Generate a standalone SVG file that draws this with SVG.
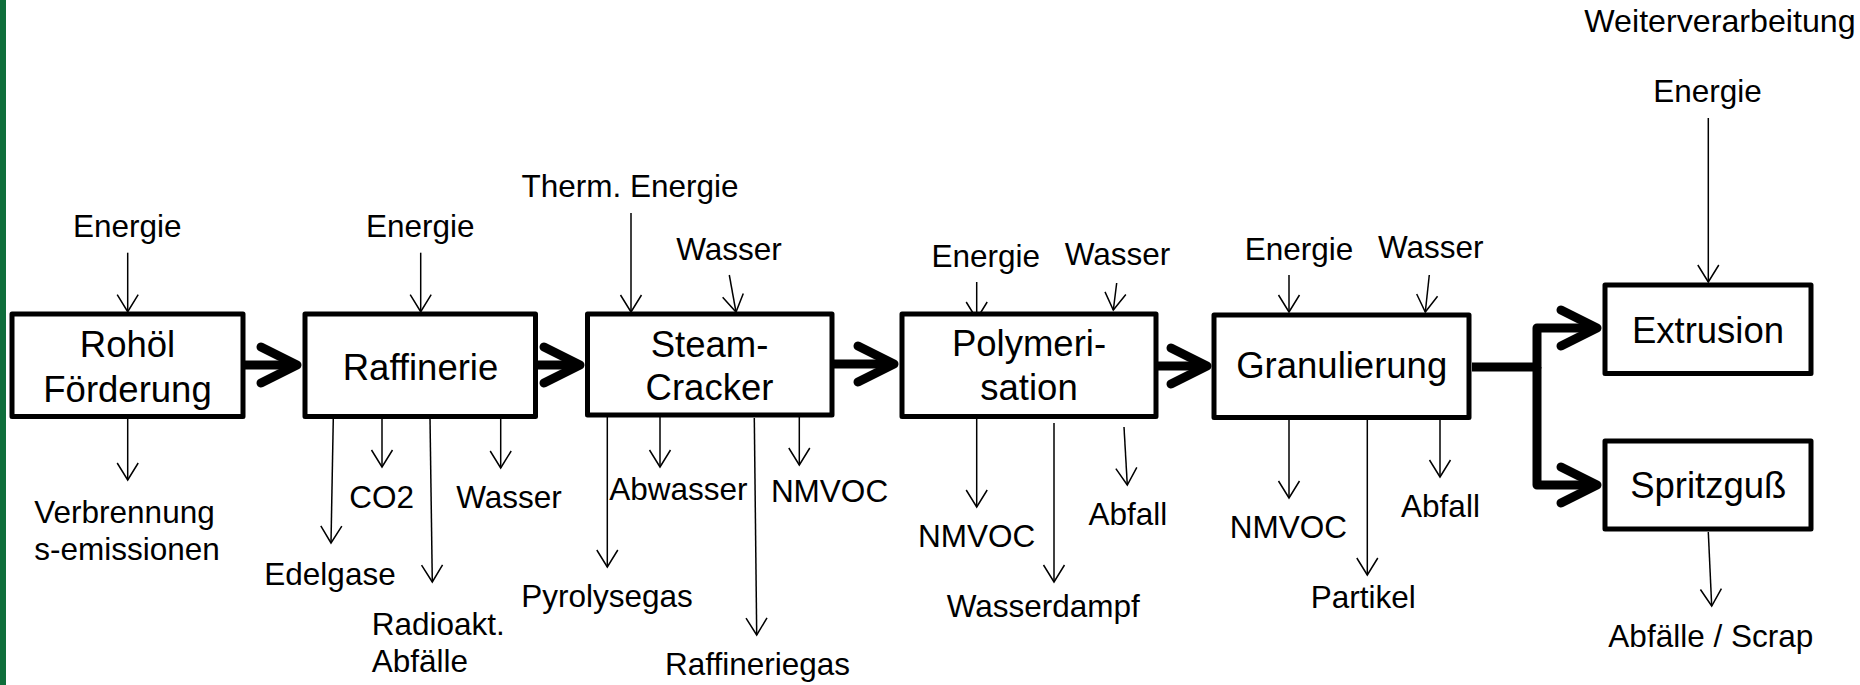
<svg xmlns="http://www.w3.org/2000/svg" width="1860" height="685" viewBox="0 0 1860 685">
<style>
.box{fill:#fff;stroke:#000;stroke-width:5;stroke-linejoin:round}
.bt{font-family:"Liberation Sans",Arial,sans-serif;font-size:36.5px;fill:#000;text-anchor:middle}
.lb{font-family:"Liberation Sans",Arial,sans-serif;font-size:31.5px;fill:#000;text-anchor:middle}
.ls{text-anchor:start}
.thin{stroke:#000;stroke-width:1.5;fill:none;marker-end:url(#v)}
.thick{stroke:#000;stroke-width:9;fill:none;stroke-linejoin:round;marker-end:url(#ch)}
</style>
<defs>
<marker id="v" markerUnits="userSpaceOnUse" orient="auto" refX="0" refY="0" markerWidth="40" markerHeight="40" overflow="visible">
<path d="M-17,-10.5 L0,0 L-17,10.5" fill="none" stroke="#000" stroke-width="1.5"/>
</marker>
<marker id="ch" markerUnits="userSpaceOnUse" orient="auto" refX="0" refY="0" markerWidth="80" markerHeight="80" overflow="visible">
<path d="M-36,-18 L0,0 L-36,18" fill="none" stroke="#000" stroke-width="9" stroke-linecap="round" stroke-linejoin="round"/>
</marker>
</defs>
<rect width="1860" height="685" fill="#fff"/>
<rect x="0" y="0" width="6" height="685" fill="#0e6e3b"/>

<g id="connectors">
<path class="thick" d="M245,365 H297"/>
<path class="thick" d="M538,365 H580"/>
<path class="thick" d="M834,364 H894"/>
<path class="thick" d="M1158,366 H1207"/>
<path class="thick" d="M1472,367 H1537 V328 H1597"/>
<path class="thick" d="M1537,367 V485 H1597"/>
<line class="thin" x1="127.7" y1="252.7" x2="127.7" y2="311.7"/>
<line class="thin" x1="127.7" y1="419" x2="127.7" y2="480"/>
<line class="thin" x1="420.7" y1="252.7" x2="420.7" y2="311.7"/>
<line class="thin" x1="333.3" y1="418" x2="331" y2="543"/>
<line class="thin" x1="382" y1="416" x2="382" y2="467"/>
<line class="thin" x1="430" y1="418" x2="432.3" y2="582"/>
<line class="thin" x1="500.7" y1="418" x2="500.7" y2="468"/>
<line class="thin" x1="631" y1="213" x2="631" y2="312"/>
<line class="thin" x1="729.3" y1="275" x2="736" y2="312"/>
<line class="thin" x1="607.3" y1="417" x2="607.3" y2="567"/>
<line class="thin" x1="660" y1="417" x2="660" y2="467"/>
<line class="thin" x1="754.3" y1="418" x2="756.7" y2="635"/>
<line class="thin" x1="799.3" y1="417" x2="799.3" y2="465"/>
<line class="thin" x1="976.7" y1="282" x2="976.7" y2="319"/>
<line class="thin" x1="1116.7" y1="283" x2="1113.3" y2="310"/>
<line class="thin" x1="976.7" y1="419" x2="976.7" y2="507"/>
<line class="thin" x1="1054" y1="423" x2="1054" y2="582"/>
<line class="thin" x1="1124" y1="427" x2="1127.3" y2="485"/>
<line class="thin" x1="1289" y1="275" x2="1289" y2="312"/>
<line class="thin" x1="1429.3" y1="275" x2="1425.3" y2="312"/>
<line class="thin" x1="1289" y1="420" x2="1289" y2="498"/>
<line class="thin" x1="1367.3" y1="415" x2="1367.3" y2="575"/>
<line class="thin" x1="1440" y1="420" x2="1440" y2="477"/>
<line class="thin" x1="1708.3" y1="118" x2="1708.3" y2="282"/>
<line class="thin" x1="1708.3" y1="532" x2="1711.7" y2="606"/>
</g>

<g id="n-rohoel">
<rect class="box" x="12" y="314" width="231" height="102.5"/>
<text class="bt" x="127.5" y="357">Rohöl</text>
<text class="bt" x="127.5" y="402">Förderung</text>
</g>
<g id="n-raffinerie">
<rect class="box" x="305" y="314" width="230.5" height="102.5"/>
<text class="bt" x="420.5" y="380">Raffinerie</text>
</g>
<g id="n-steamcracker">
<rect class="box" x="587.5" y="314" width="244.5" height="101"/>
<text class="bt" x="709.5" y="356.7">Steam-</text>
<text class="bt" x="709.5" y="400">Cracker</text>
</g>
<g id="n-polymerisation">
<rect class="box" x="902" y="314" width="254" height="102.5"/>
<text class="bt" x="1029" y="356">Polymeri-</text>
<text class="bt" x="1029" y="400">sation</text>
</g>
<g id="n-granulierung">
<rect class="box" x="1214" y="315" width="255" height="102.5"/>
<text class="bt" x="1341.7" y="378.3">Granulierung</text>
</g>
<g id="n-extrusion">
<rect class="box" x="1605" y="285" width="206" height="88.5"/>
<text class="bt" x="1708" y="342.5">Extrusion</text>
</g>
<g id="n-spritzguss">
<rect class="box" x="1605" y="441" width="206" height="88"/>
<text class="bt" x="1708.3" y="498.3">Spritzguß</text>
</g>

<g id="labels">
<text class="lb" x="127.2" y="237">Energie</text>
<text class="lb ls" x="34.3" y="523">Verbrennung</text>
<text class="lb ls" x="34.3" y="560">s-emissionen</text>
<text class="lb" x="420.3" y="237">Energie</text>
<text class="lb" x="330" y="585">Edelgase</text>
<text class="lb" x="381.7" y="508.3">CO2</text>
<text class="lb ls" x="371.7" y="635">Radioakt.</text>
<text class="lb ls" x="371.7" y="671.7">Abfälle</text>
<text class="lb" x="509" y="508.3">Wasser</text>
<text class="lb" x="630" y="196.7">Therm. Energie</text>
<text class="lb" x="729" y="260">Wasser</text>
<text class="lb" x="607" y="606.7">Pyrolysegas</text>
<text class="lb" x="678.3" y="500">Abwasser</text>
<text class="lb" x="757.5" y="675">Raffineriegas</text>
<text class="lb" x="829.5" y="501.7">NMVOC</text>
<text class="lb" x="985.8" y="266.7">Energie</text>
<text class="lb" x="1117.5" y="265">Wasser</text>
<text class="lb" x="976.7" y="546.7">NMVOC</text>
<text class="lb" x="1043.3" y="616.7">Wasserdampf</text>
<text class="lb" x="1127.8" y="525">Abfall</text>
<text class="lb" x="1299" y="260">Energie</text>
<text class="lb" x="1430.8" y="258.3">Wasser</text>
<text class="lb" x="1288.3" y="538.3">NMVOC</text>
<text class="lb" x="1363.3" y="608.3">Partikel</text>
<text class="lb" x="1440.5" y="516.7">Abfall</text>
<text class="lb" x="1720" y="31.7" style="font-size:32.2px">Weiterverarbeitung</text>
<text class="lb" x="1707.5" y="101.7">Energie</text>
<text class="lb" x="1710.8" y="646.7">Abfälle / Scrap</text>
</g>
</svg>
